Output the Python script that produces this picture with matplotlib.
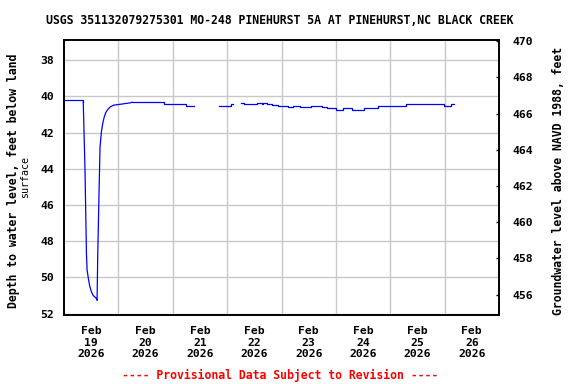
import matplotlib
matplotlib.use('Agg')
import matplotlib.pyplot as plt
import matplotlib.dates as mdates
from matplotlib.ticker import FixedLocator
from datetime import datetime, timedelta

# ---- data (hours since 2026-02-19 00:00, depth to water in feet) ----
hours_a = [0, 8.5, 9.3, 9.9, 10.2, 10.8, 11.4, 12.1, 12.9, 13.6, 14.3, 14.6, 14.9,
           15.5, 15.9, 16.5, 17.1, 17.7, 18.4, 19.3, 20.5, 21.9, 24.9, 29.3, 30.0,
           44.3, 46.2, 53.8, 55.4, 57.2]
depth_a = [40.22, 40.30, 44.26, 48.68, 49.60, 50.10, 50.50, 50.80, 51.00, 51.08,
           51.17, 51.27, 48.68, 45.09, 42.79, 41.96, 41.49, 41.16, 40.90, 40.72,
           40.57, 40.48, 40.43, 40.35, 40.32, 40.39, 40.44, 40.50, 40.55, 40.55]
hours_b = [68.5, 70.4, 73.8, 74.5]
depth_b = [40.55, 40.50, 40.44, 40.44]
hours_c = [78.2, 79.5, 85.4, 87.3, 88.0, 89.5, 91.7, 94.6, 99.0, 101.2, 104.2, 109.0,
           113.7, 115.9, 120.0, 123.2, 126.9, 132.5, 134.2, 138.4, 145.2, 146.7,
           148.2, 150.8, 158.8, 162.6, 167.7, 170.7, 172.1]
depth_c = [40.37, 40.43, 40.37, 40.43, 40.37, 40.44, 40.48, 40.54, 40.59, 40.54,
           40.59, 40.54, 40.59, 40.66, 40.72, 40.66, 40.72, 40.66, 40.61, 40.55,
           40.50, 40.55, 40.50, 40.44, 40.39, 40.44, 40.50, 40.44, 40.44]

left_ticks = [38, 40, 42, 44, 46, 48, 50, 52]
right_ticks = [456, 458, 460, 462, 464, 466, 468, 470]
day_labels = ["Feb\n19\n2026", "Feb\n20\n2026", "Feb\n21\n2026", "Feb\n22\n2026",
              "Feb\n23\n2026", "Feb\n24\n2026", "Feb\n25\n2026", "Feb\n26\n2026"]
title = "USGS 351132079275301 MO-248 PINEHURST 5A AT PINEHURST,NC BLACK CREEK"
datum_offset = 506.95  # elevation = offset - depth

base = datetime(2026, 2, 19)
def to_dt(hs):
    return [base + timedelta(hours=h) for h in hs]

FONT = 'DejaVu Sans Mono'
plt.rcParams['font.family'] = [FONT, 'DejaVu Sans']

fig = plt.figure(figsize=(5.76, 3.84), dpi=100)
ax = fig.add_axes([64/576, 1-315/384, 435/576, (315-39.5)/384])

# pumping drawdown and recovery: continuous line
ax.plot(to_dt(hours_a[1:25]), depth_a[1:25], color='#0000ff', lw=0.9)
ax.plot(to_dt(hours_a[:2]), depth_a[:2], color='#0000ff', lw=0.9, drawstyle='steps-post')
# quiet periods: stepped (0.01 ft resolution)
for hs, ds in [(hours_a[24:], depth_a[24:]), (hours_b, depth_b), (hours_c, depth_c)]:
    ax.plot(to_dt(hs), ds, color='#0000ff', lw=0.9, drawstyle='steps-post')

ax.set_xlim(base, base + timedelta(days=8))
ax.set_ylim(52.08, 36.85)

noon = [mdates.date2num(base + timedelta(days=i, hours=12)) for i in range(8)]
mid = [mdates.date2num(base + timedelta(days=i)) for i in range(1, 8)]
ax.xaxis.set_major_locator(FixedLocator(noon))
ax.set_xticklabels(day_labels)
ax.xaxis.set_minor_locator(FixedLocator(mid))
ax.set_yticks(left_ticks)

ax.grid(False)
ax.grid(True, which='minor', axis='x', color='#c8c8c8', lw=1.0)
ax.grid(True, which='major', axis='y', color='#c8c8c8', lw=1.0)
ax.set_axisbelow(True)

ax.tick_params(axis='x', which='both', length=0, pad=8, labelsize=8.2)
ax.tick_params(axis='y', which='both', length=0, pad=7, labelsize=8.2)
for lab in ax.get_xticklabels() + ax.get_yticklabels():
    lab.set_fontweight('bold')
    lab.set_family(FONT)

for sp in ax.spines.values():
    sp.set_linewidth(1.2)
    sp.set_color('black')

ax2 = ax.twinx()
ax2.set_ylim(datum_offset - 52.08, datum_offset - 36.85)
ax2.set_yticks(right_ticks)
ax2.tick_params(axis='y', direction='in', length=2.5, width=1, pad=9.5, labelsize=8.2)
for lab in ax2.get_yticklabels():
    lab.set_fontweight('bold')
    lab.set_family(FONT)
for sp in ax2.spines.values():
    sp.set_linewidth(1.2)

fig.text(280/576, 1-21/384, title, ha='center', va='center',
         fontsize=8.3, fontweight='bold', family=FONT)
fig.text(14/576, 1-181/384, "Depth to water level, feet below land",
         rotation=90, ha='center', va='center', fontsize=8.3, fontweight='bold', family=FONT)
fig.text(25/576, 1-177/384, "surface", rotation=90, ha='center', va='center',
         fontsize=7.2, family=FONT)
fig.text(558/576, 1-181/384, "Groundwater level above NAVD 1988, feet",
         rotation=90, ha='center', va='center', fontsize=8.3, fontweight='bold', family=FONT)
fig.text(280.5/576, 1-375/384, "---- Provisional Data Subject to Revision ----",
         ha='center', va='center', fontsize=8.3, fontweight='bold', color='red', family=FONT)

fig.savefig('out.png', dpi=100)
